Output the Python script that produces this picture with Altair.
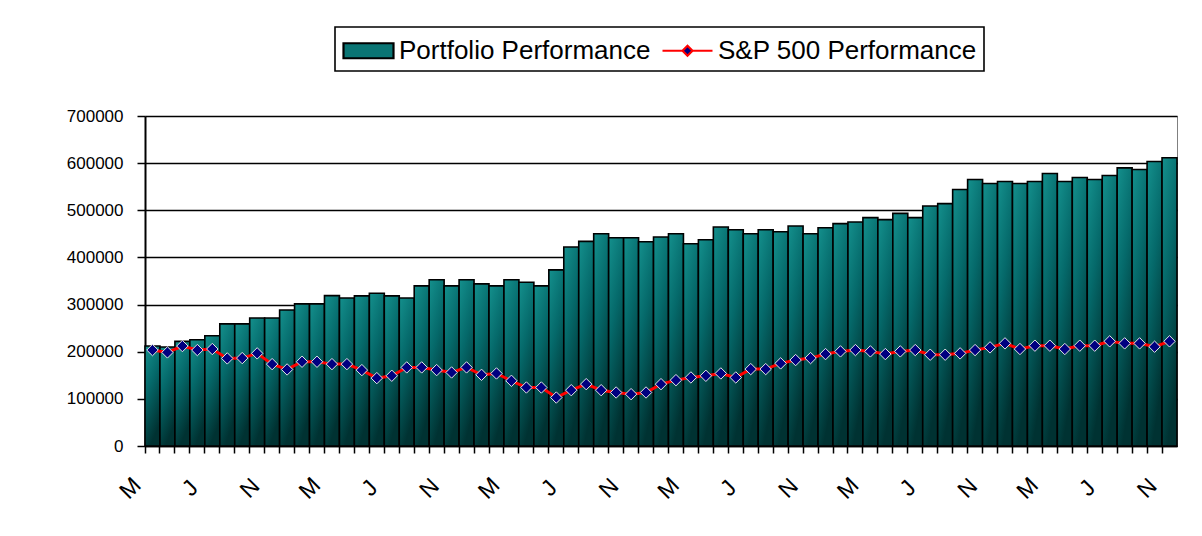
import altair as alt
import pandas as pd

# ---- data ----
month_index = list(range(69))
portfolio = [212000, 210000, 222000, 225500, 234000, 259000, 259000, 271600, 271600, 288600,
             301400, 301400, 319000, 314000, 318400, 324000, 318400, 314000, 339700, 352500,
             339700, 352500, 344000, 339700, 352500, 347500, 339700, 373700, 422000, 434000,
             450300, 441800, 441800, 433300, 443200, 450300, 429000, 437600, 464500, 458800,
             450300, 458800, 454600, 466600, 450300, 463100, 471600, 475200, 484400, 480100,
             493500, 484400, 509200, 514200, 544000, 565200, 556700, 561000, 556700, 561000,
             578000, 561000, 569500, 565200, 573700, 590000, 586500, 603500, 611300]
sp500 = [203500, 198500, 212000, 203500, 205700, 185800, 186500, 196500, 173700, 162400,
         178700, 178700, 173700, 173700, 161000, 144000, 149000, 166700, 166700, 161000,
         156000, 166700, 151000, 153900, 138300, 124100, 124100, 102800, 118400, 131200,
         118400, 113500, 110000, 113500, 131200, 139700, 145400, 148900, 153900, 145400,
         163100, 163100, 175200, 182300, 186500, 195000, 200700, 203500, 200700, 195000,
         200700, 203500, 193600, 193600, 196500, 203500, 209200, 217700, 205700, 212800,
         212800, 205700, 212800, 212800, 222000, 217700, 217700, 210600, 222000]
tick_labels = ["M", "J", "N"]
series_names = ["Portfolio Performance", "S&P 500 Performance"]
y_ticks = [0, 100000, 200000, 300000, 400000, 500000, 600000, 700000]

bar_df = pd.DataFrame({"idx": month_index, "value": portfolio})
line_df = pd.DataFrame({"idx": month_index, "value": sp500})
legend_df = pd.DataFrame({"series": series_names})

stops = [("#14908d", 0.0), ("#05696a", 0.45), ("#003232", 1.0)]
bar_gradient = alt.Gradient(
    gradient="linear", x1=0, y1=0, x2=0.35, y2=1,
    stops=[alt.GradientStop(color=c, offset=o) for c, o in stops],
)

label_js = "[" + ",".join("'" + t + "'" for t in tick_labels) + "]"
x_axis = alt.Axis(
    title=None, bandPosition=0, grid=False,
    labelExpr=f"datum.value % 4 == 0 ? {label_js}[(datum.value / 4) % 3] : ''",
    labelAngle=315, labelAlign="center", labelBaseline="middle",
    labelOffset=-22, labelPadding=35, labelOverlap=False,
    labelFont="Liberation Sans", labelFontSize=23, labelColor="black",
    tickSize=7, tickColor="black", tickWidth=1.5, domainColor="black", domainWidth=1.5,
)
y_axis = alt.Axis(
    title=None, values=y_ticks, format="d", grid=True, gridColor="black", gridWidth=1.3,
    tickSize=8, tickColor="black", tickWidth=1.5, domainColor="black", domainWidth=2,
    labelFont="Liberation Sans", labelFontSize=17, labelPadding=14, labelColor="black",
)

x_enc = alt.X("idx:O", scale=alt.Scale(paddingInner=0, paddingOuter=0), axis=x_axis)
y_enc = alt.Y("value:Q", scale=alt.Scale(domain=[0, 700000], nice=False), axis=y_axis)

bars = alt.Chart(bar_df).mark_bar(fill=bar_gradient, stroke="black", strokeWidth=1.6).encode(
    x=x_enc, y=y_enc)
line = alt.Chart(line_df).mark_line(color="#ff0000", strokeWidth=3).encode(x=x_enc, y=y_enc)
points = alt.Chart(line_df).mark_point(
    shape="diamond", filled=True, fill="#000080", stroke="#e6e6e6", strokeWidth=1,
    size=130, opacity=1).encode(x=x_enc, y=y_enc)

legend = alt.Legend(
    title=None, orient="none", legendX=190, legendY=-89, direction="horizontal",
    strokeColor="black", fillColor="white", padding=7,
    symbolSize=900, symbolStrokeWidth=2.2, symbolOpacity=1, symbolOffset=10,
    labelFont="Liberation Sans", labelFontSize=26, labelColor="black", labelOffset=14,
    labelLimit=500, columnPadding=7,
)
rect_path = "M-1.667,-0.5H1.667V0.5H-1.667Z"
line_path = "M-1.667,0H-0.33M0.33,0H1.667M0,-0.33L0.33,0L0,0.33L-0.33,0Z"
legend_layer = alt.Chart(legend_df).mark_point(opacity=0, filled=True).encode(
    fill=alt.Fill("series:N", scale=alt.Scale(domain=series_names, range=["#0a7574", "#000080"]),
                  legend=legend),
    stroke=alt.Stroke("series:N", scale=alt.Scale(domain=series_names, range=["black", "#ff0000"]),
                      legend=legend),
    shape=alt.Shape("series:N", scale=alt.Scale(domain=series_names, range=[rect_path, line_path]),
                    legend=legend),
)

chart = alt.layer(bars, line, points, legend_layer).properties(
    width=1032, height=330,
    autosize=alt.AutoSizeParams(type="none"),
    padding={"left": 137, "top": 108, "right": 17, "bottom": 82},
    background="white",
).configure_view(fill="#c0c0c0", stroke="#808080", strokeWidth=1
).configure_legend(strokeWidth=1.6)

chart.save("out.html", embed_options={"renderer": "svg", "actions": False})
